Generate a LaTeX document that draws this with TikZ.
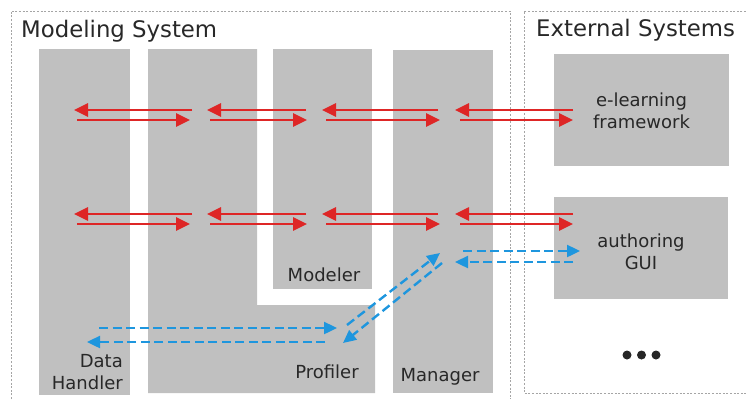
\documentclass[tikz,border=0pt]{standalone}
\usepackage{fontspec}
\setmainfont{DejaVu Sans}
\usetikzlibrary{arrows.meta}
\definecolor{boxgray}{RGB}{192,192,192}
\definecolor{txtgray}{RGB}{40,40,40}
\definecolor{arrred}{RGB}{222,38,38}
\definecolor{arrblue}{RGB}{30,150,222}
\definecolor{framegray}{RGB}{165,165,165}
\tikzset{
  graybox/.style={fill=boxgray, draw=none, inner sep=0pt, anchor=north west},
  lbl/.style={text=txtgray, inner sep=0pt, font=\fontsize{18}{22.5}\selectfont},
  titlelbl/.style={text=txtgray, inner sep=0pt, font=\fontsize{22.8}{26}\selectfont, anchor=base west},
  frame/.style={draw=framegray, line width=0.9pt, dash pattern=on 2pt off 1.6pt},
  redarr/.style={draw=arrred, line width=2.6pt, -{Triangle[length=14pt,width=13pt]}},
  bluearr/.style={draw=arrblue, line width=2.4pt, dash pattern=on 9pt off 4.5pt, -{Triangle[length=13pt,width=12pt]}},
}
\begin{document}
\begin{tikzpicture}[x=1pt,y=-1pt]
\useasboundingbox (0,0) rectangle (746,399);

% frames
\draw[frame] (11,399) -- (11,11) -- (510,11) -- (510,399);
\draw[frame] (746,11) -- (524,11) -- (524,393) -- (746,393);
\node[titlelbl] (tms) at (21,37) {Modeling System};
\node[titlelbl] (tes) at (536,36) {External Systems};

% columns
\node[graybox, minimum width=91pt, minimum height=346pt] (dh) at (39,49) {};
\fill[boxgray] (148,49) -- (257,49) -- (257,305) -- (375,305) -- (375,393) -- (148,393) -- cycle;
\coordinate (prof) at (261,349);
\node[graybox, minimum width=99pt, minimum height=240pt] (mod) at (273,49) {};
\node[graybox, minimum width=100pt, minimum height=343pt] (man) at (393,50) {};
\node[graybox, minimum width=175pt, minimum height=112pt] (elf) at (554,54) {};
\node[graybox, minimum width=174pt, minimum height=102pt] (gui) at (554,197) {};

% labels
\node[lbl, align=right, anchor=east] (dhl) at (123,372) {Data\\Handler};
\node[lbl, anchor=base] (profl) at (327,378) {Profiler};
\node[lbl, anchor=base] (modl) at (324,281) {Modeler};
\node[lbl, anchor=base] (manl) at (440,381) {Manager};
\node[lbl, align=center] (elfl) at (641.5,111) {e-learning\\framework};
\node[lbl, align=center] (guil) at (641,252) {authoring\\GUI};

% dots
\fill[black!85] (627,355) circle (4.5pt) coordinate (d1);
\fill[black!85] (641.5,355) circle (4.5pt) coordinate (d2);
\fill[black!85] (656,355) circle (4.5pt) coordinate (d3);

% red arrow coordinates, rows at 110/120 and 214/224
\foreach \r/\yu/\yd in {1/110/120, 2/214/224}{
  \coordinate (a\r s1) at (192,\yu); \coordinate (a\r t1) at (74,\yu);
  \coordinate (b\r s1) at (77,\yd);  \coordinate (b\r t1) at (190,\yd);
  \coordinate (a\r s2) at (306,\yu); \coordinate (a\r t2) at (207,\yu);
  \coordinate (b\r s2) at (210,\yd); \coordinate (b\r t2) at (307,\yd);
  \coordinate (a\r s3) at (438,\yu); \coordinate (a\r t3) at (322,\yu);
  \coordinate (b\r s3) at (326,\yd); \coordinate (b\r t3) at (440,\yd);
  \coordinate (a\r s4) at (573,\yu); \coordinate (a\r t4) at (455,\yu);
  \coordinate (b\r s4) at (460,\yd); \coordinate (b\r t4) at (573,\yd);
}
\foreach \r in {1,2}{
  \foreach \k in {1,2,3,4}{
    \draw[redarr] (a\r s\k) -- (a\r t\k);
    \draw[redarr] (b\r s\k) -- (b\r t\k);
  }
}

% blue dashed arrows
\coordinate (g1s) at (463,251); \coordinate (g1t) at (580,251);
\coordinate (g2s) at (573,262); \coordinate (g2t) at (455,262);
\coordinate (m1s) at (347,325); \coordinate (m1t) at (440,253);
\coordinate (m2s) at (442,263); \coordinate (m2t) at (343,343);
\coordinate (p1s) at (99,328);  \coordinate (p1t) at (337,328);
\coordinate (p2s) at (325,342); \coordinate (p2t) at (87,342);
\draw[bluearr] (g1s) -- (g1t);
\draw[bluearr] (g2s) -- (g2t);
\draw[bluearr] (m1s) -- (m1t);
\draw[bluearr] (m2s) -- (m2t);
\draw[bluearr] (p1s) -- (p1t);
\draw[bluearr] (p2s) -- (p2t);
\end{tikzpicture}
\end{document}
